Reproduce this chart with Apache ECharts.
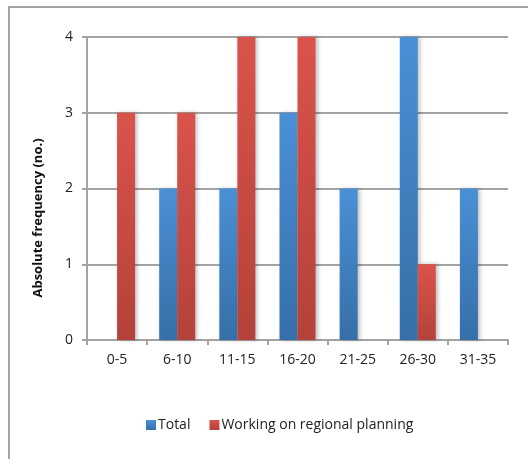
<!DOCTYPE html>
<html>
<head>
<meta charset="utf-8">
<script src="https://cdn.jsdelivr.net/npm/echarts@6/dist/echarts.min.js"></script>
<style>
  html, body { margin: 0; padding: 0; background: #fff; }
  #chart { width: 528px; height: 459px; }
</style>
</head>
<body>
<div id="chart"></div>
<script>
// age classes on the x axis
const categories = ['0-5', '6-10', '11-15', '16-20', '21-25', '26-30', '31-35'];
const totalValues = [0, 2, 2, 3, 2, 4, 2];
const regionalValues = [3, 3, 4, 4, 0, 1, 0];

const lineGray = '#a3a3a3';
const font = 'Open Sans, Liberation Sans, sans-serif';

function grad(top, bottom) {
  return new echarts.graphic.LinearGradient(0, 0, 0, 1, [
    {offset: 0, color: top},
    {offset: 1, color: bottom}
  ]);
}

const chart = echarts.init(document.getElementById('chart'));
const option = {
  animation: false,
  textStyle: {fontFamily: font},
  grid: {left: 87, top: 37, right: 20, bottom: 119},
  legend: {
    left: 141,
    top: 413,
    itemWidth: 10,
    itemHeight: 10,
    itemGap: 19,
    icon: 'rect',
    textStyle: {fontSize: 14, color: '#222', padding: [0, 0, 0, -3]},
    data: ['Total', 'Working on regional planning']
  },
  xAxis: {
    type: 'category',
    data: categories,
    axisLine: {lineStyle: {color: lineGray, width: 2}},
    axisTick: {show: true, length: 5, lineStyle: {color: lineGray, width: 2}},
    axisLabel: {fontSize: 14, color: '#222', margin: 13}
  },
  yAxis: {
    type: 'value',
    min: 0,
    max: 4,
    interval: 1,
    axisLine: {show: true, lineStyle: {color: lineGray, width: 2}},
    axisTick: {show: true, length: 5, lineStyle: {color: lineGray, width: 2}},
    splitLine: {lineStyle: {color: lineGray, width: 2}},
    axisLabel: {fontSize: 14, color: '#222', margin: 14}
  },
  graphic: [
    {
      type: 'rect',
      shape: {x: 9, y: 7, width: 560, height: 500},
      style: {fill: 'none', stroke: lineGray, lineWidth: 2},
      silent: true
    },
    {
      type: 'text',
      x: 38,
      y: 218,
      rotation: Math.PI / 2,
      style: {
        text: 'Absolute frequency (no.)',
        fontFamily: font,
        fontWeight: 'bold',
        fontSize: 13,
        fill: '#111',
        align: 'center',
        verticalAlign: 'middle'
      }
    }
  ],
  series: [
    {
      name: 'Total',
      type: 'bar',
      data: totalValues,
      barWidth: 18,
      barGap: '0%',
      itemStyle: {
        color: grad('#4a90d6', '#366fa8'),
        shadowBlur: 4,
        shadowColor: 'rgba(0,0,0,0.25)',
        shadowOffsetX: 2
      }
    },
    {
      name: 'Working on regional planning',
      type: 'bar',
      data: regionalValues,
      barWidth: 18,
      itemStyle: {
        color: grad('#da534b', '#b4423a'),
        shadowBlur: 4,
        shadowColor: 'rgba(0,0,0,0.25)',
        shadowOffsetX: 2
      }
    }
  ]
};
chart.setOption(option);
</script>
</body>
</html>
